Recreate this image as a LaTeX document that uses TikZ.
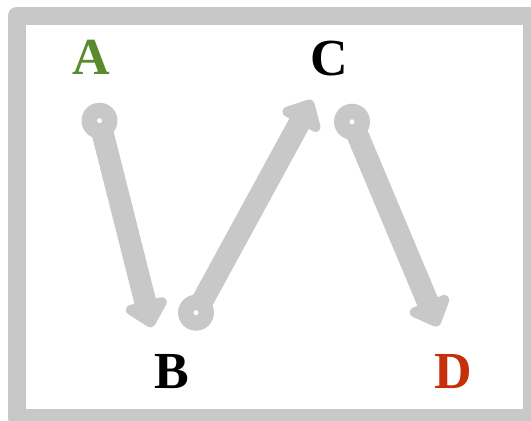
\documentclass[tikz,border=0pt]{standalone}
\usepackage{fontspec}
\setmainfont{Liberation Serif}
\usetikzlibrary{calc}
\definecolor{framegray}{HTML}{C8C8C8}
\definecolor{arrowgray}{HTML}{C8C8C8}
\definecolor{lblgreen}{HTML}{5A8A2E}
\definecolor{lblred}{HTML}{C4300A}
\tikzset{
  lbl/.style={anchor=base, inner sep=0pt, font=\fontsize{52}{52}\selectfont\bfseries},
  startdot/.style={circle, fill=arrowgray, minimum size=36pt, inner sep=0pt},
  bigarrow/.style={draw=arrowgray, line width=22pt, shorten >=10pt},
  headstyle/.style={fill=arrowgray, draw=arrowgray, line width=10pt, line join=round},
}
\begin{document}
\begin{tikzpicture}[x=1pt,y=-1pt]
\useasboundingbox (0,0) rectangle (531,421);
\draw[framegray, line width=18pt, line join=round] (16.5,15.5) rectangle (532,418);
\node[lbl, text=lblgreen] (A) at (91,74) {A};
\node[lbl, text=black] (B) at (172,388) {B};
\node[lbl, text=black] (C) at (329,75) {C};
\node[lbl, text=lblred] (D) at (453,388) {D};
\node[startdot] (sA) at (99.5,120.7) {};
\node[startdot] (sB) at (196,312.7) {};
\node[startdot] (sC) at (352,121.7) {};
\coordinate (eB) at (150.5,322.5);
\coordinate (eC) at (309.6,104.4);
\coordinate (eD) at (436.1,321.8);
\foreach \s/\e in {sA/eB, sB/eC, sC/eD}{
  \draw[bigarrow] (\s.center) -- (\e);
  \path[headstyle] (\e) -- ($(\e)!17pt!(\s.center)!16pt!90:(\s.center)$) -- ($(\e)!17pt!(\s.center)!16pt!-90:(\s.center)$) -- cycle;
}
\fill[white] (sA.center) circle (2.5pt);
\fill[white] (sB.center) circle (2.5pt);
\fill[white] (sC.center) circle (2.5pt);
\end{tikzpicture}
\end{document}
